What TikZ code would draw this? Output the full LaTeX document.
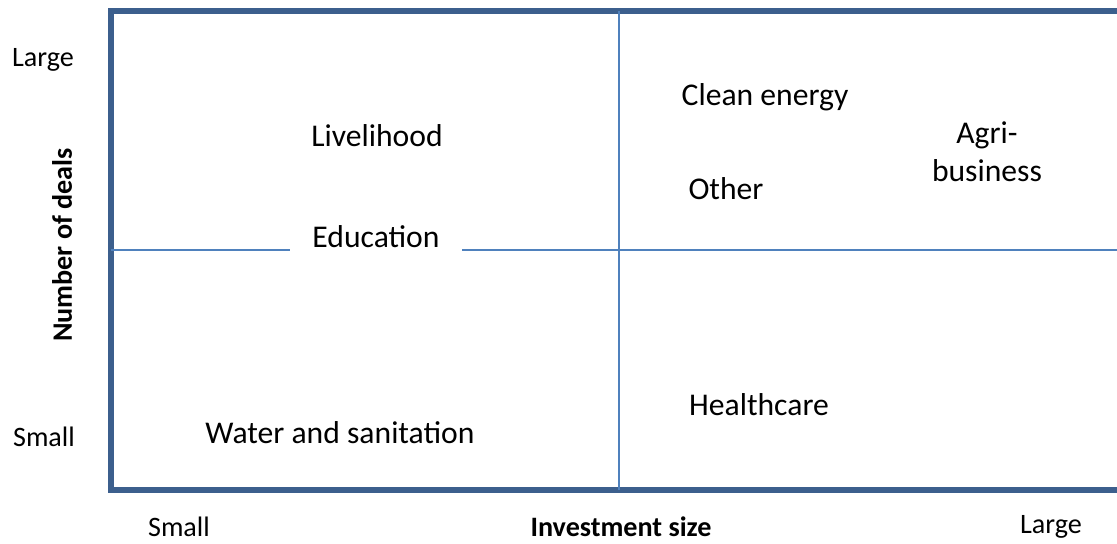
\documentclass[tikz,border=0pt]{standalone}
\usepackage{fontspec}
\setmainfont{Carlito}
\usepackage{xcolor}
\definecolor{frameblue}{HTML}{3C5F8D}
\definecolor{lineblue}{HTML}{4F81BD}

\begin{document}
\begin{tikzpicture}[x=0.025cm, y=-0.025cm,
    sector/.style={font=\fontsize{22.5}{27}\selectfont, inner sep=0pt},
    axislabel/.style={font=\fontsize{20}{24}\selectfont, inner sep=0pt}]
                \useasboundingbox (0,0) rectangle (1117,544);

                % frame
                \coordinate (TR) at (1117,11);
                \coordinate (TL) at (111,11);
                \coordinate (BL) at (111,490);
                \coordinate (BR) at (1117,490);
                \draw[frameblue, line width=4.3pt, line join=miter] (TR) -- (TL) -- (BL) -- (BR);

                % quadrant lines
                \coordinate (ML) at (111,250);
                \coordinate (MR) at (1117,250);
                \coordinate (MT) at (619,11);
                \coordinate (MB) at (619,490);
                \draw[lineblue, line width=1.4pt] (MT) -- (MB);

                \node[sector, inner xsep=16pt] (EDU) at (376,237) {Education};
                \draw[lineblue, line width=1.4pt] (ML) -- (ML -| EDU.west);
                \draw[lineblue, line width=1.4pt] (MR -| EDU.east) -- (MR);

                \node[sector] (LIV) at (377,136) {Livelihood};
                \node[sector] (CLE) at (765,97) {Clean energy};
                \node[sector] (OTH) at (726,189) {Other};
                \node[sector, align=center] (AGR) at (987,152) {Agri-\\business};
                \node[sector] (HEA) at (759,405) {Healthcare};
                \node[sector] (WAT) at (340,433) {Water and sanitation};

                % axes
                \node[axislabel] (YL) at (43,60) {Large};
                \node[axislabel] (YS) at (44,437) {Small};
                \node[axislabel, font=\fontsize{20}{24}\selectfont\bfseries, rotate=90] (Y) at (62,245) {Number of deals};
                \node[axislabel] (XS) at (179,527) {Small};
                \node[axislabel, font=\fontsize{20}{24}\selectfont\bfseries] (X) at (621,527) {Investment size};
                \node[axislabel] (XL) at (1051,527) {Large};
            \end{tikzpicture}
\end{document}
